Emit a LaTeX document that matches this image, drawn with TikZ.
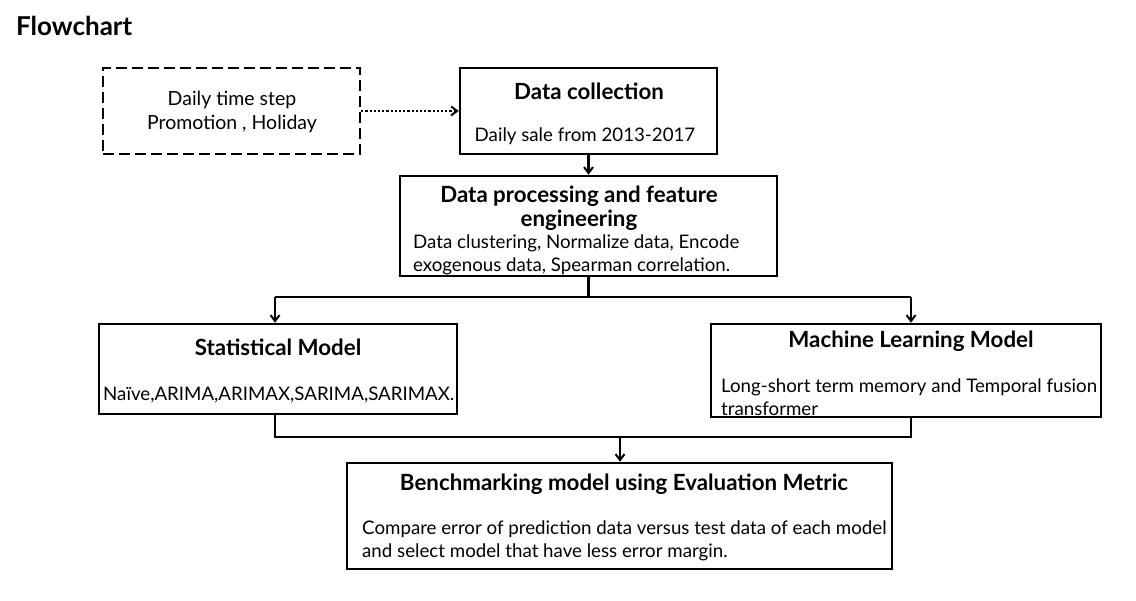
\documentclass[tikz,border=0pt]{standalone}
\usepackage{fontspec}
\setmainfont{Lato}
\usetikzlibrary{arrows.meta}
\begin{document}
\begin{tikzpicture}[x=1pt,y=-1pt,
  box/.style={draw=black,line width=2.5pt,inner sep=0pt},
  dbox/.style={draw=black,line width=2.5pt,dash pattern=on 11pt off 5pt,inner sep=0pt},
  conn/.style={line width=2.2pt},
  arr/.style={line width=2.2pt,-{Straight Barb[length=6pt,width=9pt,line width=2pt]}},
  ttl/.style={font=\fontsize{22.3}{24}\selectfont\bfseries,inner sep=0pt,align=center},
  txt/.style={font=\fontsize{18.7}{23}\selectfont,inner sep=0pt}
]
\useasboundingbox (0,0) rectangle (1136,601);
\node[anchor=west,inner sep=0pt,font=\fontsize{26}{28}\selectfont\bfseries] (title) at (16,26) {Flowchart};

% boxes
\node[dbox,minimum width=257pt,minimum height=86pt] (ext) at (231.5,111) {};
\node[box,minimum width=257pt,minimum height=86pt] (dc) at (588.5,111) {};
\node[box,minimum width=377pt,minimum height=100pt] (dp) at (588.5,226) {};
\node[box,minimum width=358pt,minimum height=90pt] (sm) at (278,369) {};
\node[box,minimum width=390pt,minimum height=93pt] (ml) at (906,370.5) {};
\node[box,minimum width=545pt,minimum height=106pt] (bm) at (619.5,516) {};

% texts
\node[txt,align=center,font=\fontsize{19.5}{24}\selectfont] (exttxt) at (232,112) {Daily time step\\Promotion , Holiday};
\node[ttl] (dct) at (589,91) {Data collection};
\node[txt] (dcb) at (585,136) {Daily sale from 2013-2017};
\node[ttl] (dpt) at (579,208) {Data processing and feature\\engineering};
\node[txt,anchor=west,align=left] (dpb) at (413,254.5) {Data clustering, Normalize data, Encode\\exogenous data, Spearman correlation.};
\node[ttl] (smt) at (278,347) {Statistical Model};
\node[txt,anchor=west] (smb) at (103,395) {Naïve,ARIMA,ARIMAX,SARIMA,SARIMAX.};
\node[ttl] (mlt) at (911,341) {Machine Learning Model};
\node[txt,anchor=west,align=left] (mlb) at (721,397.5) {Long-short term memory and Temporal fusion\\transformer};
\node[ttl] (bmt) at (624,484) {Benchmarking model using Evaluation Metric};
\node[txt,anchor=west,align=left] (bmb) at (362,540.5) {Compare error of prediction data versus test data of each model\\and select model that have less error margin.};

% connectors
\draw[line width=2.2pt,dotted,-{Straight Barb[length=6pt,width=9pt,line width=2pt]}] (ext.east) -- (dc.west);
\draw[arr] (dc.south) -- (dp.north);
\coordinate (split) at (588.5,297);
\coordinate (sl) at (275,297);
\coordinate (sr) at (911,297);
\draw[conn] (dp.south) -- (split);
\draw[conn] (sl) -- (sr);
\draw[arr] (sl) -- (sl |- sm.north);
\draw[arr] (sr) -- (sr |- ml.north);
\coordinate (jl) at (275,437);
\coordinate (jr) at (911,437);
\coordinate (jm) at (620,437);
\draw[conn] (jl |- sm.south) -- (jl) -- (jr) -- (jr |- ml.south);
\draw[arr] (jm) -- (jm |- bm.north);
\end{tikzpicture}
\end{document}
